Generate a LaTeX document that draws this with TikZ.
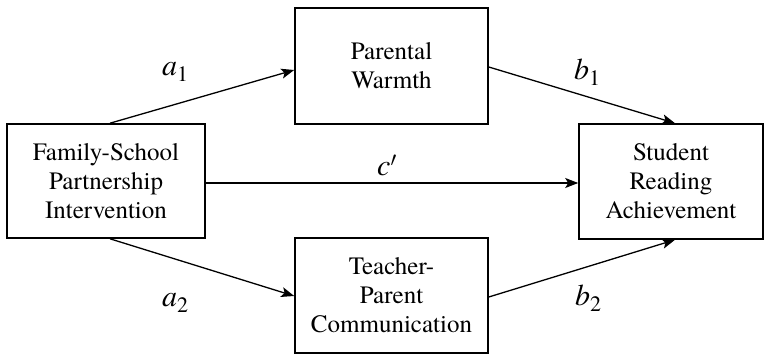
\documentclass[tikz,border=0pt]{standalone}
\usepackage{fontspec}
\setmainfont{TeX Gyre Termes}
\usetikzlibrary{arrows.meta,calc}
\tikzset{
  box/.style={draw, line width=1.6pt, rectangle, align=center, inner sep=0pt,
    font=\fontsize{25}{29}\selectfont},
  conn/.style={line width=1.3pt, -{Stealth[length=13pt,width=10pt,inset=3pt]}},
  lab/.style={inner sep=0pt, font=\fontsize{30}{31}\selectfont}
}
\newcommand{\pathlab}[2]{\textit{#1}\raisebox{-6pt}{\fontsize{22}{22}\selectfont #2}}
\begin{document}
\begin{tikzpicture}[x=1pt,y=-1pt]
\useasboundingbox (0,0) rectangle (765,355);
\node[box, minimum width=198pt, minimum height=114pt] (L) at (106,181) {Family-School\\Partnership\\Intervention};
\node[box, minimum width=193pt, minimum height=116pt] (T) at (391.5,66) {Parental\\Warmth};
\node[box, minimum width=193pt, minimum height=115pt] (B) at (391.5,295.5) {Teacher-\\Parent\\Communication};
\node[box, minimum width=184pt, minimum height=115pt] (R) at (671,181.5) {Student\\Reading\\Achievement};
\draw[conn] ([xshift=4pt]L.north) -- ([yshift=-4pt]T.west);
\draw[conn] ([yshift=-1pt]T.east) -- ([xshift=4pt]R.north);
\draw[conn] ([yshift=-2pt]L.east) -- ([yshift=-1.5pt]R.west);
\draw[conn] ([xshift=4pt]L.south) -- ([yshift=-0.5pt]B.west);
\draw[conn] ([yshift=-1.5pt]B.east) -- ([xshift=4pt]R.south);
\node[lab] (a1) at (175,72) {\pathlab{a}{1}};
\node[lab] (b1) at (587,72) {\pathlab{b}{1}};
\node[lab] (c) at (387,165) {\textit{c}$'$};
\node[lab] (a2) at (175,303) {\pathlab{a}{2}};
\node[lab] (b2) at (588,298) {\pathlab{b}{2}};
\end{tikzpicture}
\end{document}
